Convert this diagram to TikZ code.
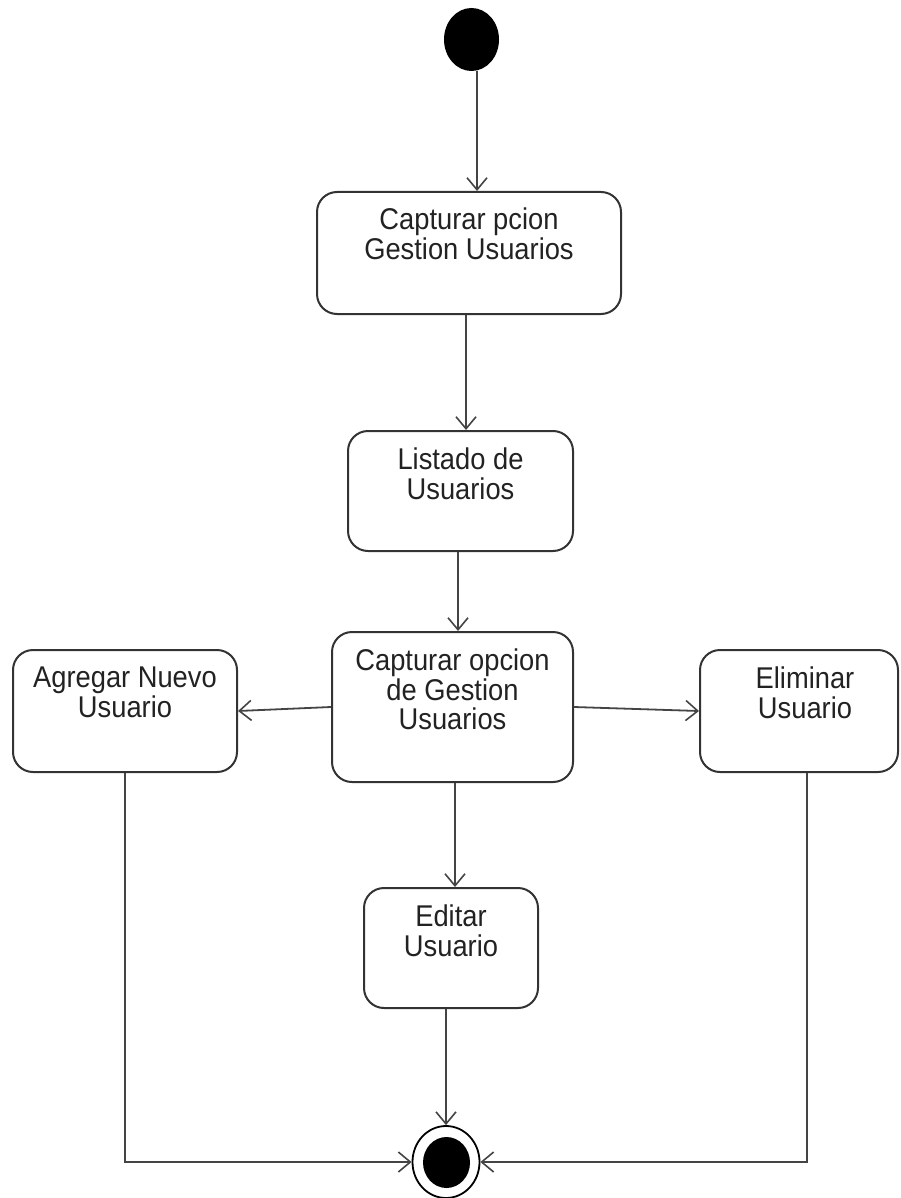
\documentclass[tikz,border=0pt]{standalone}
\usepackage{fontspec}
\setmainfont{Liberation Sans}[FakeStretch=0.91]
\usetikzlibrary{arrows.meta,shapes.geometric}
\definecolor{edge}{HTML}{444444}
\definecolor{frame}{HTML}{333333}
\definecolor{ink}{HTML}{222222}
\begin{document}
\begin{tikzpicture}[x=1pt,y=-1pt,
  box/.style={draw=frame, line width=2pt, rounded corners=20pt, inner sep=0pt},
  txt/.style={anchor=north, inner sep=0pt, align=center, text=ink,
    font=\fontsize{30}{29.5}\selectfont},
  arr/.style={draw=edge, line width=1.8pt,
    -{Straight Barb[length=12pt,width=20pt,line width=1.6pt]}},
  dot/.style={ellipse, fill=black, inner sep=0pt},
]
\useasboundingbox (0,0) rectangle (900,1198);

% initial state
\node[dot, minimum width=55pt, minimum height=63pt] (init) at (471.5,39.5) {};

% activities
\node[box, minimum width=304pt, minimum height=122pt] (b1) at (469,253) {};
\node[txt] at ([yshift=-17]b1.north) {Capturar pcion\\Gestion Usuarios};

\node[box, minimum width=225pt, minimum height=120pt] (b2) at (460.5,491) {};
\node[txt] at ([yshift=-18]b2.north) {Listado de\\Usuarios};

\node[box, minimum width=241pt, minimum height=150pt] (b3) at (452.5,707) {};
\node[txt] at ([yshift=-18]b3.north) {Capturar opcion\\de Gestion\\Usuarios};

\node[box, minimum width=224pt, minimum height=122pt] (add) at (125,711) {};
\node[txt] at ([yshift=-18]add.north) {Agregar Nuevo\\Usuario};

\node[box, minimum width=198pt, minimum height=122pt] (del) at (799,711) {};
\node[txt] at ([xshift=6,yshift=-18]del.north) {Eliminar\\Usuario};

\node[box, minimum width=174pt, minimum height=120pt] (edit) at (451,948) {};
\node[txt] at ([yshift=-18]edit.north) {Editar\\Usuario};

% final state
\node[draw=black, line width=1.8pt, ellipse, minimum width=67pt, minimum height=72pt, inner sep=0pt] (endo) at (446,1162) {};
\node[dot, minimum width=47pt, minimum height=51pt] (endi) at (446.5,1162.5) {};

% transitions
\coordinate (c1) at ([xshift=5.5]init.south);
\draw[arr] (c1) -- (c1 |- b1.north);
\coordinate (c2) at ([xshift=-3]b1.south);
\draw[arr] (c2) -- (c2 |- b2.north);
\coordinate (c3) at ([xshift=-2.5]b2.south);
\draw[arr] (c3) -- (c3 |- b3.north);
\coordinate (c4) at ([xshift=2.5]b3.south);
\draw[arr] (c4) -- (c4 |- edit.north);
\draw[arr] (edit.south -| endo.north) -- (endo.north);

\draw[arr] (b3.west) -- (add.east);
\draw[arr] (b3.east) -- (del.west);

\draw[arr] (add.south) |- (endo.west);
\coordinate (c5) at ([xshift=8]del.south);
\draw[arr] (c5) |- (endo.east);
\end{tikzpicture}
\end{document}
